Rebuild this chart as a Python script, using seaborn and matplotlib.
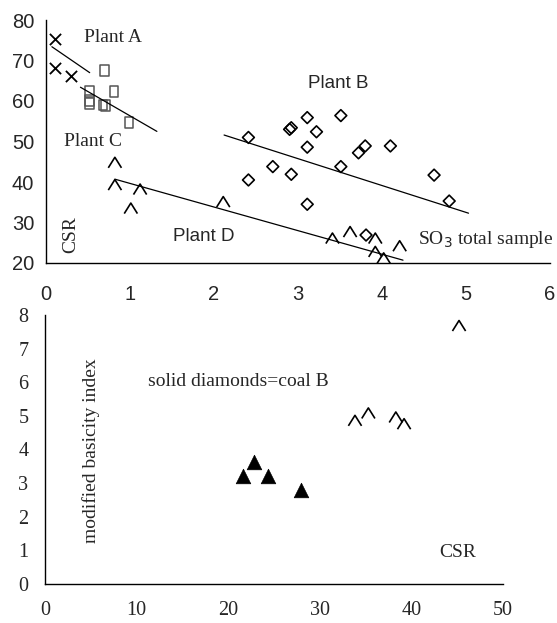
import numpy as np
import pandas as pd
import matplotlib
matplotlib.use("Agg")
import matplotlib.pyplot as plt
import seaborn as sns
from matplotlib.path import Path

sns.set_theme(style="white")
plt.rcParams['font.family'] = ['Liberation Sans', 'DejaVu Sans']

# ---------------- data: top panel (CSR vs SO3 total sample) ----------------
plant_a_x = [0.11, 0.11, 0.30]
plant_a_y = [75.3, 68.2, 66.2]

plant_c_x = [0.70, 0.52, 0.52, 0.52, 0.81, 0.68, 0.71, 0.99]
plant_c_y = [67.5, 62.3, 60.2, 59.3, 62.3, 59.0, 58.8, 54.7]

plant_b_x = [2.41, 2.90, 2.92, 3.11, 3.51, 3.22, 3.11, 2.70, 2.92, 2.41,
             3.51, 3.72, 3.80, 3.11, 4.10, 4.62, 4.80, 3.81]
plant_b_y = [51.0, 53.0, 53.4, 55.9, 56.4, 52.4, 48.6, 43.8, 41.9, 40.5,
             43.8, 47.2, 48.9, 34.5, 48.9, 41.7, 35.3, 26.9]

plant_d_x = [0.82, 0.82, 1.12, 1.01, 2.11, 3.41, 3.62, 3.92, 3.92, 4.02, 4.21]
plant_d_y = [44.8, 39.3, 38.2, 33.5, 35.1, 26.1, 27.7, 26.1, 22.8, 21.2, 24.2]

# trend lines (endpoints)
trend_a_x = [0.07, 0.52]
trend_a_y = [73.4, 67.0]
trend_c_x = [0.41, 1.32]
trend_c_y = [63.4, 52.5]
trend_b_x = [2.12, 5.03]
trend_b_y = [51.6, 32.3]
trend_d_x = [0.82, 4.25]
trend_d_y = [40.7, 20.7]

top_xticks = [0, 1, 2, 3, 4, 5, 6]
top_yticks = [20, 30, 40, 50, 60, 70, 80]

# ---------------- data: bottom panel (basicity index vs CSR) ----------------
coal_b_x = [21.65, 22.85, 24.3, 27.95]
coal_b_y = [3.22, 3.64, 3.22, 2.80]
other_x = [33.84, 35.3, 38.3, 39.2, 45.2]
other_y = [4.86, 5.08, 4.96, 4.76, 7.68]

bot_xticks = [0, 10, 20, 30, 40, 50]
bot_yticks = [0, 1, 2, 3, 4, 5, 6, 7, 8]

# ---------------- markers ----------------
caret = Path([(-1.0, -0.8), (0.0, 0.8), (1.0, -0.8)],
             [Path.MOVETO, Path.LINETO, Path.LINETO])
rect = Path([(-0.4, -0.5), (0.4, -0.5), (0.4, 0.5), (-0.4, 0.5), (-0.4, -0.5)],
            [Path.MOVETO, Path.LINETO, Path.LINETO, Path.LINETO, Path.CLOSEPOLY])

fig = plt.figure(figsize=(5.57, 6.23), dpi=100)
W, H = 557, 623
ax1 = fig.add_axes([46 / W, 1 - 263 / H, (550 - 46) / W, (263 - 20) / H])
ax2 = fig.add_axes([45 / W, 1 - 584 / H, (503 - 45) / W, (584 - 315) / H])

serif = ['Liberation Serif', 'DejaVu Serif']
sans = ['Liberation Sans', 'DejaVu Sans']

# ---- top panel ----
for tx, ty in [(trend_a_x, trend_a_y), (trend_c_x, trend_c_y),
               (trend_b_x, trend_b_y), (trend_d_x, trend_d_y)]:
    sns.lineplot(x=tx, y=ty, ax=ax1, color='black', lw=0.9, sort=False)

sns.scatterplot(x=plant_a_x, y=plant_a_y, ax=ax1, marker='x', s=65,
                color='black', linewidth=1.3)
sns.scatterplot(x=plant_c_x, y=plant_c_y, ax=ax1, marker=rect, s=60,
                facecolor='none', edgecolor='#555555', linewidth=1.1)
sns.scatterplot(x=plant_b_x, y=plant_b_y, ax=ax1, marker='D', s=36,
                facecolor='none', edgecolor='black', linewidth=1.2)
sns.scatterplot(x=plant_d_x, y=plant_d_y, ax=ax1, marker=caret, s=90,
                facecolor='none', edgecolor='black', linewidth=1.2)

ax1.set_xlim(0, 6)
ax1.set_ylim(20, 80)
ax1.set_xticks(top_xticks)
ax1.set_yticks(top_yticks)
ax1.set_xticklabels([str(v) for v in top_xticks], family=sans, fontsize=14.5)
ax1.set_yticklabels([str(v) for v in top_yticks], family=sans, fontsize=14.5)
ax1.tick_params(axis='both', direction='inout', length=9, width=1, color='black', pad=4)
ax1.tick_params(axis='x', pad=11)

ax1.text(0.45, 75.8, 'Plant A', family=serif, fontsize=14, va='center', ha='left')
ax1.text(0.22, 50.1, 'Plant C', family=serif, fontsize=14, va='center', ha='left')
ax1.text(3.48, 64.4, 'Plant B', family=sans, fontsize=13.5, va='center', ha='center')
ax1.text(1.51, 26.5, 'Plant D', family=sans, fontsize=13.5, va='center', ha='left')
ax1.text(0.29, 26.9, 'CSR', family=serif, fontsize=14, va='center', ha='center', rotation=90)
ax1.text(4.43, 25.7, r'SO$_3$ total sample', family=serif, fontsize=14, va='center', ha='left',
         clip_on=False)

# ---- bottom panel ----
sns.scatterplot(x=coal_b_x, y=coal_b_y, ax=ax2, marker='^', s=110,
                color='black', edgecolor='black', linewidth=0.5)
sns.scatterplot(x=other_x, y=other_y, ax=ax2, marker=caret, s=90,
                facecolor='none', edgecolor='black', linewidth=1.2)

ax2.set_xlim(0, 50)
ax2.set_ylim(0, 8)
ax2.set_xticks(bot_xticks)
ax2.set_yticks(bot_yticks)
ax2.set_xticklabels([str(v) for v in bot_xticks], family=serif, fontsize=14.5)
ax2.set_yticklabels([str(v) for v in bot_yticks], family=serif, fontsize=14.5)
ax2.tick_params(axis='both', direction='out', length=5, width=1, color='black', pad=7)
ax2.tick_params(axis='x', pad=7)

ax2.text(5.0, 3.96, 'modified basicity index', family=serif, fontsize=14,
         va='center', ha='center', rotation=90)
ax2.text(11.2, 6.02, 'solid diamonds=coal B', family=serif, fontsize=14, va='center', ha='left')
ax2.text(43.0, 0.94, 'CSR', family=serif, fontsize=14, va='center', ha='left')

for ax in (ax1, ax2):
    ax.set_xlabel('')
    ax.set_ylabel('')
    for side in ('top', 'right'):
        ax.spines[side].set_visible(False)
    for side in ('left', 'bottom'):
        ax.spines[side].set_color('black')
        ax.spines[side].set_linewidth(1.0)
    ax.set_facecolor('white')
    if ax.get_legend() is not None:
        ax.get_legend().remove()

fig.patch.set_facecolor('white')
fig.savefig('out.png', dpi=100, facecolor='white')
